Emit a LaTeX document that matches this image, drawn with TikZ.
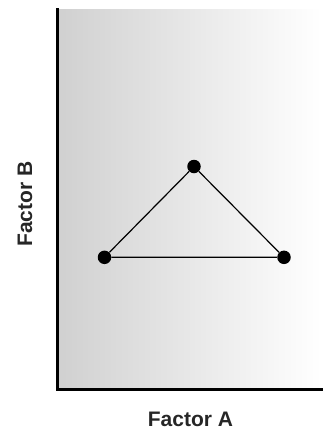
\documentclass[tikz,border=0pt]{standalone}
\usepackage{fontspec}
\setmainfont{Liberation Sans}
\definecolor{shadeL}{HTML}{D0D0D0}
\begin{document}
\begin{tikzpicture}[x=1pt,y=-1pt,
  pt/.style={circle,fill=black,inner sep=0pt,minimum size=13.5pt},
  edge/.style={line width=1.2pt,black},
  axis/.style={line width=2.6pt,black},
  lab/.style={font=\fontsize{21}{25}\selectfont\bfseries,text=black!85}]
\useasboundingbox (0,0) rectangle (326,429);
\shade[left color=shadeL,right color=white] (57,9) rectangle (321,389);
\coordinate (o) at (57.5,389.5);
\coordinate (ytop) at (57.5,9);
\coordinate (xend) at (321.5,389.5);
\draw[axis,line cap=rect] (ytop) -- (o) -- (xend);
\node[pt] (t) at (194,166.5) {};
\node[pt] (l) at (104.5,257.3) {};
\node[pt] (r) at (284,257.3) {};
\draw[edge] (l) -- (t) -- (r) -- (l);
\node[lab,anchor=base] (xa) at (190.5,426) {Factor A};
\node[lab,anchor=base,rotate=90] (yb) at (32,204) {Factor B};
\end{tikzpicture}
\end{document}
